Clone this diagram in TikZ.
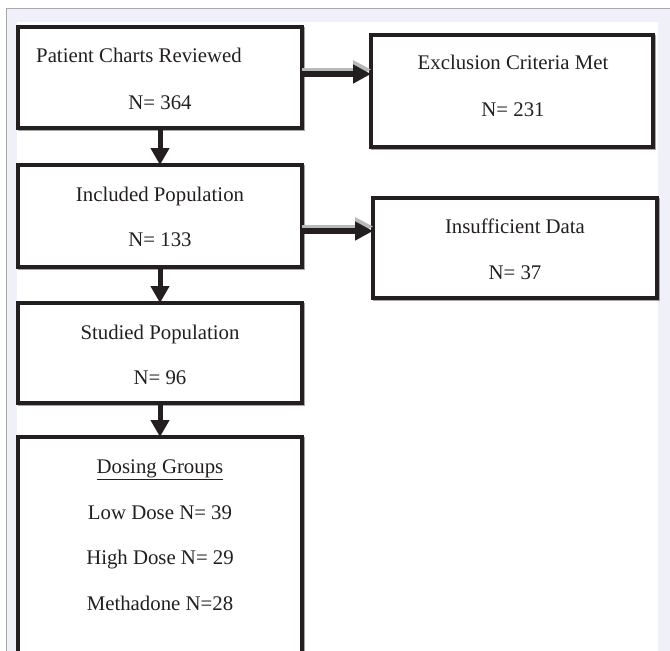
\documentclass[tikz,border=0pt]{standalone}
\usepackage{fontspec}
\setmainfont{Liberation Serif}
\usetikzlibrary{arrows.meta}
\definecolor{bandbg}{HTML}{F0F1F8}
\definecolor{frameline}{HTML}{A8A8A8}
\definecolor{ink}{HTML}{231F20}
\tikzset{
  flowbox/.style={draw=ink, line width=3.6pt, fill=white},
  boxshadow/.style={draw=gray!70, line width=3.6pt},
  lbl/.style={font=\fontsize{20.8}{25}\selectfont, text=ink, inner sep=0pt},
  varrow/.style={draw=ink, line width=5pt, -{Triangle[width=18pt,length=17pt]}},
  harrow/.style={draw=ink, line width=6pt, -{Triangle[width=18pt,length=18pt]}},
  harrowshadow/.style={draw=gray!55, line width=3pt, -{Triangle[width=18pt,length=18pt]}},
}
\begin{document}
\begin{tikzpicture}[x=1pt,y=-1pt]
\useasboundingbox (0,0) rectangle (670,651);
\begin{scope}
\clip (0,0) rectangle (670,651);
% page background frame
\fill[white] (0,0) rectangle (670,651);
\fill[bandbg] (7,9) rectangle (670,651);
\fill[white] (17,22) rectangle (658,651);
\draw[frameline, line width=1pt] (670,8.5) -- (6.5,8.5) -- (6.5,651);

% shadows of boxes
\draw[boxshadow] (19.5,28.5) rectangle (303.5,129.5);
\draw[boxshadow] (19.5,166.5) rectangle (303.5,268.5);
\draw[boxshadow] (19.5,304.5) rectangle (303.5,404.5);
\draw[boxshadow] (19.5,438.5) rectangle (303.5,700);
\draw[boxshadow] (372.5,36.5) rectangle (654.5,148.5);
\draw[boxshadow] (374.5,199.5) rectangle (658.5,299.5);

% boxes
\path[flowbox] (18,27) rectangle (302,128);
\coordinate (b1s) at (160,128);
\coordinate (b1e) at (302,74);
\path[flowbox] (18,165) rectangle (302,267);
\coordinate (b2n) at (160,165);
\coordinate (b2s) at (160,267);
\coordinate (b2e) at (302,231);
\path[flowbox] (18,303) rectangle (302,403);
\coordinate (b3n) at (160,303);
\coordinate (b3s) at (160,403);
\path[flowbox] (18,437) rectangle (302,700);
\coordinate (b4n) at (160,437);
\path[flowbox] (371,35) rectangle (653,147);
\coordinate (exw) at (371,74);
\path[flowbox] (373,198) rectangle (657,298);
\coordinate (inw) at (373,231);

% labels
\node[lbl, anchor=base west] (t1a) at (36,62) {Patient Charts Reviewed};
\node[lbl, anchor=base] (t1b) at (160,109) {N= 364};
\node[lbl, anchor=base] (t2a) at (160,201) {Included Population};
\node[lbl, anchor=base] (t2b) at (160,246) {N= 133};
\node[lbl, anchor=base] (t3a) at (160,339) {Studied Population};
\node[lbl, anchor=base] (t3b) at (160,384) {N= 96};
\node[lbl, anchor=base] (t4a) at (160,473) {\underline{Dosing Groups}};
\node[lbl, anchor=base] (t4b) at (160,519) {Low Dose N= 39};
\node[lbl, anchor=base] (t4c) at (160,564) {High Dose N= 29};
\node[lbl, anchor=base] (t4d) at (160,610) {Methadone N=28};
\node[lbl, anchor=base] (t5a) at (513,69) {Exclusion Criteria Met};
\node[lbl, anchor=base] (t5b) at (513,116) {N= 231};
\node[lbl, anchor=base] (t6a) at (515,233) {Insufficient Data};
\node[lbl, anchor=base] (t6b) at (515,279) {N= 37};

% connectors
\draw[harrowshadow] ([yshift=4.5pt]b1e) -- ([yshift=4.5pt]exw);
\draw[harrow] (b1e) -- (exw);
\draw[harrowshadow] ([yshift=4.5pt]b2e) -- ([yshift=4.5pt]inw);
\draw[harrow] (b2e) -- (inw);
\draw[varrow] (b1s) -- (b2n);
\draw[varrow] (b2s) -- (b3n);
\draw[varrow] (b3s) -- (b4n);
\end{scope}
\end{tikzpicture}
\end{document}
